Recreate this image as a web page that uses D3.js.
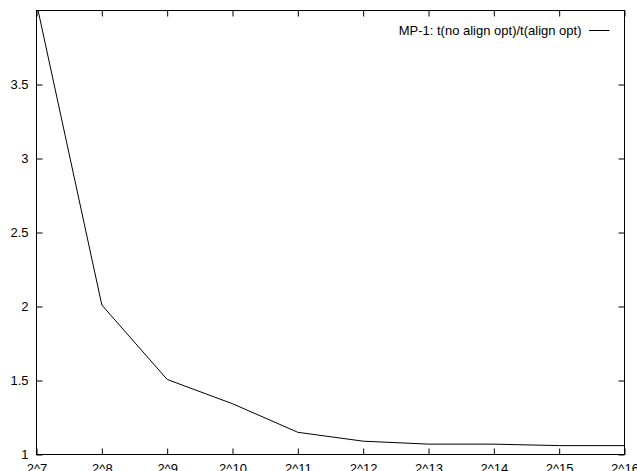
<!DOCTYPE html>
<html>
<head>
<meta charset="utf-8">
<script src="https://cdn.jsdelivr.net/npm/d3@7"></script>
<style>
  html, body { margin: 0; padding: 0; background: #fff; }
  svg { display: block; }
  text { font-family: "Liberation Sans", Arial, Helvetica, sans-serif; font-size: 13px; fill: #000; }
</style>
</head>
<body>
<svg id="chart" width="637" height="471"></svg>
<script>
const exponents = [7, 8, 9, 10, 11, 12, 13, 14, 15, 16];
const xTickLabels = ["2^7", "2^8", "2^9", "2^10", "2^11", "2^12", "2^13", "2^14", "2^15", "2^16"];
const ratio = [4.05, 2.01, 1.507, 1.343, 1.15, 1.09, 1.07, 1.07, 1.06, 1.06];
const yTicks = [1, 1.5, 2, 2.5, 3, 3.5];
const seriesName = "MP-1: t(no align opt)/t(align opt)";

const m = { left: 36.5, right: 624.5, top: 10.5, bottom: 454.5 };
const svg = d3.select("#chart");

const x = d3.scaleLinear().domain([7, 16]).range([m.left, m.right]);
const y = d3.scaleLinear().domain([1, 4]).range([m.bottom, m.top]);
const tickLen = 6;

svg.append("defs").append("clipPath").attr("id", "clip")
  .append("rect").attr("x", m.left).attr("y", m.top)
  .attr("width", m.right - m.left).attr("height", m.bottom - m.top);

const xBottom = d3.axisBottom(x).tickValues(exponents).tickSize(-tickLen).tickPadding(9.5)
  .tickFormat((d, i) => xTickLabels[i]);
const gxb = svg.append("g").attr("transform", `translate(0,${m.bottom})`).call(xBottom);
gxb.select(".domain").remove();
gxb.selectAll("text").style("font-size", "13px").attr("font-family", null);

const xTop = d3.axisTop(x).tickValues(exponents).tickSize(-tickLen).tickFormat("");
const gxt = svg.append("g").attr("transform", `translate(0,${m.top})`).call(xTop);
gxt.select(".domain").remove();

const yLeft = d3.axisLeft(y).tickValues(yTicks).tickSize(-tickLen).tickPadding(8)
  .tickFormat(d3.format("~g"));
const gyl = svg.append("g").attr("transform", `translate(${m.left},0)`).call(yLeft);
gyl.select(".domain").remove();
gyl.selectAll("text").style("font-size", "13px").attr("font-family", null);

const yRight = d3.axisRight(y).tickValues(yTicks).tickSize(-tickLen).tickFormat("");
const gyr = svg.append("g").attr("transform", `translate(${m.right},0)`).call(yRight);
gyr.select(".domain").remove();

svg.selectAll(".tick line").attr("stroke", "#000").attr("stroke-width", 1);

svg.append("rect").attr("x", m.left).attr("y", m.top)
  .attr("width", m.right - m.left).attr("height", m.bottom - m.top)
  .attr("fill", "none").attr("stroke", "#000").attr("stroke-width", 1);

const line = d3.line().x((d, i) => x(exponents[i])).y(d => y(d));
svg.append("path").datum(ratio).attr("clip-path", "url(#clip)")
  .attr("d", line).attr("fill", "none").attr("stroke", "#000").attr("stroke-width", 1);

svg.append("text").attr("x", 581.5).attr("y", 35).attr("text-anchor", "end").text(seriesName);
svg.append("line").attr("x1", 589).attr("x2", 609.5).attr("y1", 30.5).attr("y2", 30.5)
  .attr("stroke", "#000").attr("stroke-width", 1);
</script>
</body>
</html>
